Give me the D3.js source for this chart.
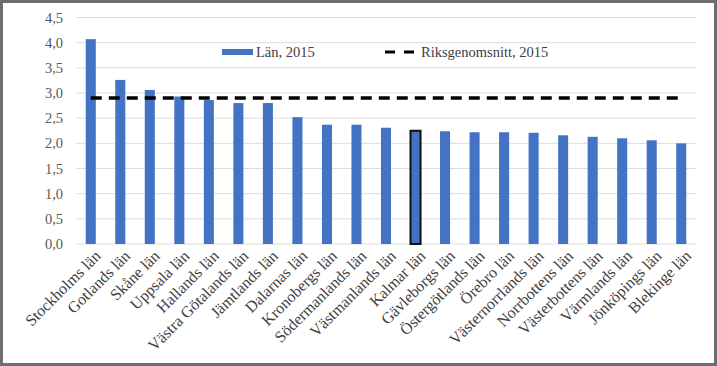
<!DOCTYPE html>
<html>
<head>
<meta charset="utf-8">
<script src="https://cdn.jsdelivr.net/npm/d3@7"></script>
<style>
  body { margin: 0; background: #fff; }
  svg text { font-family: 'Liberation Serif', 'DejaVu Serif', serif !important; }
</style>
</head>
<body>
<div id="chart"></div>
<script>
// Data
const counties = ["Stockholms län", "Gotlands län", "Skåne län", "Uppsala län", "Hallands län",
  "Västra Götalands län", "Jämtlands län", "Dalarnas län", "Kronobergs län", "Södermanlands län",
  "Västmanlands län", "Kalmar län", "Gävleborgs län", "Östergötlands län", "Örebro län",
  "Västernorrlands län", "Norrbottens län", "Västerbottens län", "Värmlands län", "Jönköpings län", "Blekinge län"]
const values2015 = [4.07, 3.26, 3.06, 2.93, 2.86, 2.80, 2.80, 2.52, 2.37, 2.37,
  2.31, 2.25, 2.24, 2.22, 2.22, 2.21, 2.16, 2.13, 2.10, 2.06, 2.00]
const nationalAvg = 2.90
const yTicks = [0, 0.5, 1, 1.5, 2, 2.5, 3, 3.5, 4, 4.5]
const highlighted = "Kalmar län"

const W = 717, H = 366
const margin = {top: 17.5, right: 21, bottom: 122, left: 76}
const width = W - margin.left - margin.right
const height = H - margin.top - margin.bottom
const serif = "'Liberation Serif', 'DejaVu Serif', serif"

const svg = d3.select("#chart").append("svg")
    .attr("width", W)
    .attr("height", H)
    .style("font-family", serif)

// outer frame
svg.append("rect")
    .attr("x", 1.5).attr("y", 1.5)
    .attr("width", W - 3).attr("height", H - 3)
    .attr("fill", "#fff")
    .attr("stroke", "#6e6e6e")
    .attr("stroke-width", 3)

const g = svg.append("g")
    .attr("transform", "translate(" + margin.left + "," + margin.top + ")")

const x = d3.scaleBand()
    .domain(counties)
    .range([0, width])
    .paddingInner(0.66)
    .paddingOuter(0.33)
const y = d3.scaleLinear()
    .domain([0, 4.5])
    .range([height, 0])

// gridlines
g.append("g")
    .selectAll("line")
    .data(yTicks)
    .join("line")
    .attr("x1", 0).attr("x2", width)
    .attr("y1", d => y(d)).attr("y2", d => y(d))
    .attr("stroke", "#dcdcdc")
    .attr("stroke-width", 1)

// y axis
const yAxis = d3.axisLeft(y)
    .tickValues(yTicks)
    .tickSize(0)
    .tickPadding(13)
    .tickFormat(d => d3.format(".1f")(d).replace(".", ","))
g.append("g")
    .call(yAxis)
    .attr("font-family", null)
    .call(a => a.select(".domain").remove())
    .selectAll("text")
    .attr("font-size", 14.5)
    .attr("fill", "#595959")
    .style("font-family", serif)

// bars
g.selectAll(".bar")
    .data(counties)
    .join("rect")
    .attr("class", "bar")
    .attr("x", d => x(d))
    .attr("y", (d, i) => y(values2015[i]))
    .attr("width", x.bandwidth())
    .attr("height", (d, i) => height - y(values2015[i]))
    .attr("fill", "#4472c4")
    .attr("stroke", d => d === highlighted ? "#111" : "none")
    .attr("stroke-width", 2)

// national average line
const line = d3.line()
    .x(d => x(d) + x.bandwidth() / 2)
    .y(() => y(nationalAvg))
g.append("path")
    .datum(counties)
    .attr("d", line)
    .attr("fill", "none")
    .attr("stroke", "#000")
    .attr("stroke-width", 3.5)
    .attr("stroke-dasharray", "11,7")

// x axis labels, rotated
g.append("g")
    .selectAll("text")
    .data(counties)
    .join("text")
    .attr("transform", d => "translate(" + (x(d) + x.bandwidth() / 2 + 7) + "," + (height + 9) + ") rotate(-45)")
    .attr("text-anchor", "end")
    .attr("dy", "0.35em")
    .attr("font-size", 16)
    .attr("fill", "#404040")
    .style("font-family", serif)
    .text(d => d)

// legend
const legend = svg.append("g")
legend.append("rect")
    .attr("x", 222).attr("y", 49)
    .attr("width", 31).attr("height", 6)
    .attr("fill", "#4472c4")
legend.append("text")
    .attr("x", 256).attr("y", 57)
    .attr("font-size", 14.5)
    .attr("fill", "#404040")
    .style("font-family", serif)
    .text("Län, 2015")
legend.append("line")
    .attr("x1", 385).attr("x2", 418)
    .attr("y1", 52).attr("y2", 52)
    .attr("stroke", "#000")
    .attr("stroke-width", 3)
    .attr("stroke-dasharray", "10,9")
legend.append("text")
    .attr("x", 421).attr("y", 57)
    .attr("font-size", 14.5)
    .attr("fill", "#404040")
    .style("font-family", serif)
    .text("Riksgenomsnitt, 2015")
</script>
</body>
</html>
